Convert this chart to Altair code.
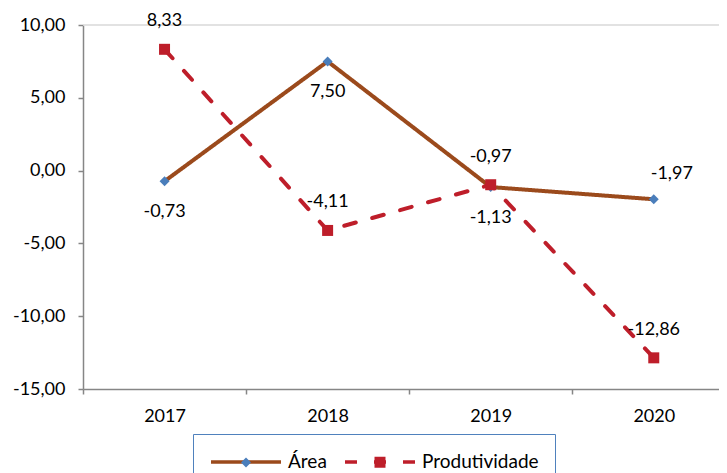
import altair as alt
import pandas as pd

# ---- data ----
anos = [2017, 2018, 2019, 2020]
series = ["Área", "Produtividade"]
area = [-0.73, 7.50, -1.13, -1.97]
produtividade = [8.33, -4.11, -0.97, -12.86]
y_ticks = [-15, -10, -5, 0, 5, 10]
x_ticks = [2016.5, 2017, 2017.5, 2018, 2018.5, 2019, 2019.5, 2020]

rows = []
for nome, vals in zip(series, [area, produtividade]):
    for a, v in zip(anos, vals):
        rows.append({"ano": a, "serie": nome, "marcador": nome, "valor": v})
df = pd.DataFrame(rows)

FONT = "Lato"
BROWN = "#9B4A1C"
RED = "#BE1E2A"
BLUE = "#4A7EBB"
AXIS_GRAY = "#868686"

line_path = "M-3.5,0H3.5"
diamond = "M-3.5,0M3.5,0M0,-0.5L0.5,0L0,0.5L-0.5,0Z"
square = "M-3.5,0M3.5,0M-0.55,-0.55H0.55V0.55H-0.55Z"

LEG_X, LEG_Y = 110, 409
common_leg = dict(
    title=None, orient="none", legendX=LEG_X, legendY=LEG_Y,
    direction="horizontal", symbolSize=400, symbolOffset=25,
    labelOffset=30, columnPadding=11, padding=16,
    labelFont=FONT, labelFontSize=19, labelColor="black",
    symbolStrokeWidth=3.5,
)

line_legend = alt.Legend(
    symbolType=line_path,
    strokeColor="#4F81BD", fillColor="white", **common_leg,
)
point_legend = alt.Legend(
    symbolType={"expr": f"datum.label === 'Produtividade' ? '{square}' : '{diamond}'"},
    symbolStrokeColor="transparent", labelOpacity=0, **common_leg,
)

xscale = alt.Scale(domain=[2016.5, 2020.40], nice=False, zero=False)
yscale = alt.Scale(domain=[-15, 10], nice=False, zero=False)

x_axis = alt.Axis(
    values=x_ticks, title=None, grid=False,
    labelExpr="datum.value % 1 === 0 ? format(datum.value, 'd') : ''",
    tickOpacity={"condition": {"test": "datum.value % 1 !== 0", "value": 1}, "value": 0},
    labelPadding=13,
)
y_axis = alt.Axis(values=y_ticks, title=None, grid=False, format=".2f", labelPadding=13)

base = alt.Chart(df)

top_rule = alt.Chart(df).mark_rule(color="#D9D9D9", strokeWidth=1.5).encode(
    y=alt.datum(10, scale=yscale)
).transform_filter("datum.ano == 2017 && datum.serie == 'Área'")

lines = base.mark_line(strokeWidth=4, strokeCap="round", strokeJoin="round").encode(
    x=alt.X("ano:Q", scale=xscale, axis=x_axis),
    y=alt.Y("valor:Q", scale=yscale, axis=y_axis),
    color=alt.Color("serie:N", scale=alt.Scale(domain=series, range=[BROWN, RED]), legend=line_legend),
    strokeDash=alt.StrokeDash("serie:N", scale=alt.Scale(domain=series, range=[[1, 0], [12, 17]]), legend=line_legend),
    detail="serie:N",
)

points = base.mark_point(filled=True, size=400, opacity=1, strokeWidth=0).encode(
    x=alt.X("ano:Q", scale=xscale),
    y=alt.Y("valor:Q", scale=yscale),
    fill=alt.Fill("marcador:N", sort=series, scale=alt.Scale(range=[BLUE, RED]), legend=point_legend),
    shape=alt.Shape("marcador:N", sort=series, scale=alt.Scale(range=[diamond, square]), legend=None),
)

txt = dict(font=FONT, fontSize=18, color="black")
lab_enc = dict(
    x=alt.X("ano:Q", scale=xscale),
    y=alt.Y("valor:Q", scale=yscale),
    text=alt.Text("valor:Q", format=".2f"),
)
lab_prod = base.mark_text(dy=-28, **txt).encode(**lab_enc).transform_filter(
    "datum.serie == 'Produtividade'")
lab_area = base.mark_text(dy=31, **txt).encode(**lab_enc).transform_filter(
    "datum.serie == 'Área' && datum.ano != 2020")
lab_area_last = base.mark_text(dy=-25, dx=18, **txt).encode(**lab_enc).transform_filter(
    "datum.serie == 'Área' && datum.ano == 2020")

chart = alt.layer(top_rule, lines, points, lab_prod, lab_area, lab_area_last).properties(
    width=636, height=364,
    autosize=alt.AutoSizeParams(type="none"),
    padding={"left": 75, "top": 17, "right": 0, "bottom": 84},
).configure(
    locale={"number": {"decimal": ",", "thousands": ".", "grouping": [3],
                        "currency": ["R$ ", ""], "minus": "-"}},
).configure_view(stroke=None).configure_axis(
    domainColor=AXIS_GRAY, domainWidth=1.5, tickColor=AXIS_GRAY, tickWidth=1.5,
    tickSize=5, labelFont=FONT, labelFontSize=18, labelColor="black",
).configure_legend(cornerRadius=0, strokeWidth=1)

chart.save("out.html", embed_options={"renderer": "svg", "actions": False})
